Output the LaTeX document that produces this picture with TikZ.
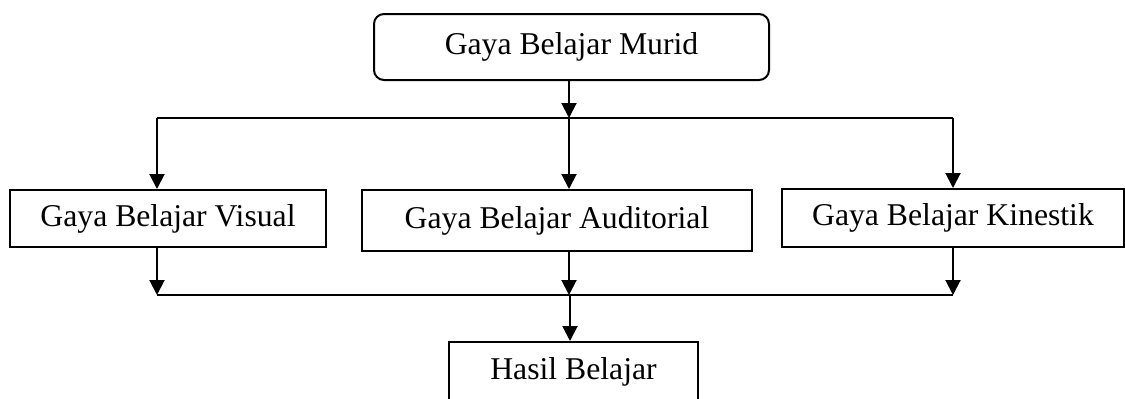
\documentclass[tikz,border=0pt]{standalone}
\usepackage{fontspec}
\setmainfont{Liberation Serif}
\usetikzlibrary{arrows.meta}
\begin{document}
\begin{tikzpicture}[x=1pt,y=-1pt,
  box/.style={draw, line width=2pt, inner sep=0pt, font=\fontsize{31.7}{38}\selectfont},
  conn/.style={line width=2pt},
  arr/.style={conn,-{Triangle[width=15pt,length=15pt]}}]
\useasboundingbox (0,0) rectangle (1125,399);
\clip (0,0) rectangle (1125,399);
\node[box, rounded corners=10pt, minimum width=395pt, minimum height=66pt] (murid) at (571.5,47) {Gaya Belajar Murid};
\node[box, minimum width=316pt, minimum height=57pt] (visual) at (168,218.5) {Gaya Belajar Visual};
\node[box, minimum width=390pt, minimum height=61pt] (audit) at (557,220.5) {Gaya Belajar Auditorial};
\node[box, minimum width=342pt, minimum height=58pt] (kin) at (953,218) {Gaya Belajar Kinestik};
\node[box, minimum width=249pt, minimum height=59pt] (hasil) at (573.5,371.5) {Hasil Belajar};
\coordinate (tl) at (157,118);
\coordinate (tm) at (569,118);
\coordinate (tr) at (953,118);
\coordinate (bl) at (157,295);
\coordinate (bm) at (569,295);
\coordinate (br) at (953,295);
\coordinate (hm) at (570,295);
\draw[arr] (murid.south -| tm) -- (tm);
\draw[conn] (tl) -- (tr);
\draw[arr] (tl) -- (tl |- visual.north);
\draw[arr] (tm) -- (tm |- audit.north);
\draw[arr] (tr) -- (tr |- kin.north);
\draw[arr] (bl |- visual.south) -- (bl);
\draw[arr] (bm |- audit.south) -- (bm);
\draw[arr] (br |- kin.south) -- (br);
\draw[conn] (bl) -- (br);
\draw[arr] (hm) -- (hm |- hasil.north);
\end{tikzpicture}
\end{document}
